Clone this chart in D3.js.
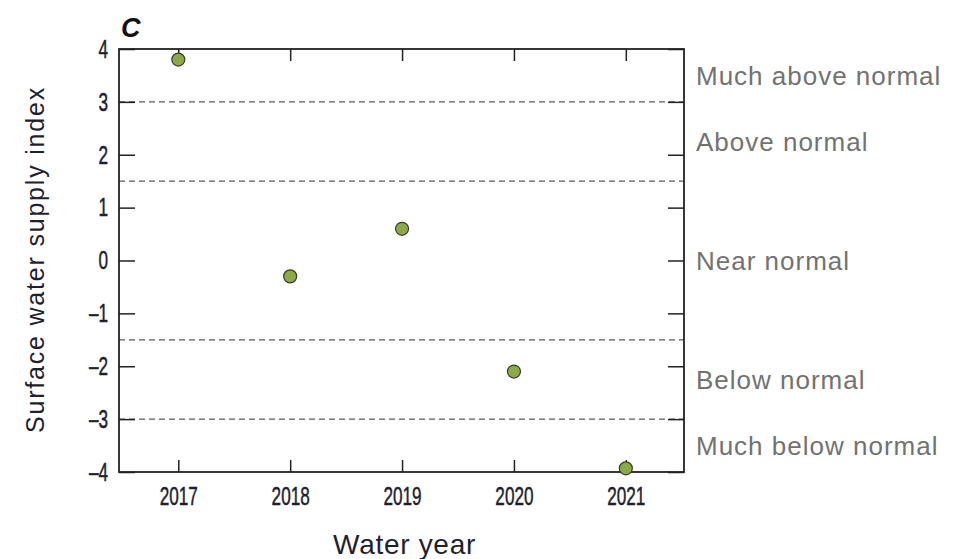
<!DOCTYPE html>
<html>
<head>
<meta charset="utf-8">
<script src="https://cdn.jsdelivr.net/npm/d3@7"></script>
<style>
  body { margin: 0; background: #fff; }
  text { font-family: "Liberation Sans", Arial, sans-serif; }
</style>
</head>
<body>
<svg id="chart" width="956" height="559"></svg>
<script>
// Surface water supply index by water year
const years = [2017, 2018, 2019, 2020, 2021];
const swsi = [3.8, -0.3, 0.6, -2.1, -3.93];
const yTicks = [-4, -3, -2, -1, 0, 1, 2, 3, 4];
const thresholds = [3, 1.5, -1.5, -3];
const classNames = ["Much above normal", "Above normal", "Near normal", "Below normal", "Much below normal"];
const classCenters = [3.5, 2.25, 0, -2.25, -3.5];

const margin = { left: 119, right: 272, top: 49, bottom: 87 };
const W = 956, H = 559;
const svg = d3.select("#chart");

const x = d3.scaleLinear().domain([2016.47, 2021.52]).range([margin.left, W - margin.right]);
const y = d3.scaleLinear().domain([-4, 4]).range([H - margin.bottom, margin.top]);

const fmt = d => d < 0 ? "\u2013" + Math.abs(d) : String(d);

// narrow the glyphs horizontally, keeping each label's anchor point
function condense(texts, sx) {
  texts.each(function () {
    const t = d3.select(this);
    const tx = +t.attr("x") || 0;
    t.attr("x", 0).attr("transform", `translate(${tx},0) scale(${sx},1)`);
  });
}

// threshold lines
svg.append("g").selectAll("line").data(thresholds).join("line")
  .attr("x1", x.range()[0]).attr("x2", x.range()[1])
  .attr("y1", d => y(d)).attr("y2", d => y(d))
  .attr("stroke", "#5a5a5a").attr("stroke-width", 1.2)
  .attr("stroke-dasharray", "6,4");

// axes with inward ticks
const axisStyle = g => {
  g.select(".domain").remove();
  g.selectAll(".tick line").attr("stroke", "#222").attr("stroke-width", 1.5);
  g.selectAll(".tick text").attr("fill", "#1f1f2e").attr("font-size", 26)
    .attr("stroke", "#1f1f2e").attr("stroke-width", 0.5);
};
svg.append("g").attr("transform", `translate(${margin.left},0)`)
  .call(d3.axisLeft(y).tickValues(yTicks).tickFormat(fmt).tickSizeInner(-16).tickPadding(11))
  .call(axisStyle)
  .call(g => condense(g.selectAll(".tick text"), 0.66));
svg.append("g").attr("transform", `translate(${W - margin.right},0)`)
  .call(d3.axisRight(y).tickValues(yTicks).tickFormat("").tickSizeInner(-16))
  .call(axisStyle);
svg.append("g").attr("transform", `translate(0,${H - margin.bottom})`)
  .call(d3.axisBottom(x).tickValues(years).tickFormat(d3.format("d")).tickSizeInner(-12).tickPadding(15))
  .call(axisStyle)
  .call(g => condense(g.selectAll(".tick text"), 0.66));
svg.append("g").attr("transform", `translate(0,${margin.top})`)
  .call(d3.axisTop(x).tickValues(years).tickFormat("").tickSizeInner(-12))
  .call(axisStyle);

// frame
svg.append("rect")
  .attr("x", margin.left).attr("y", margin.top)
  .attr("width", x.range()[1] - x.range()[0])
  .attr("height", y.range()[0] - y.range()[1])
  .attr("fill", "none").attr("stroke", "#222").attr("stroke-width", 1.8);

// points
svg.append("g").selectAll("circle").data(years).join("circle")
  .attr("cx", d => x(d))
  .attr("cy", (d, i) => y(swsi[i]))
  .attr("r", 6.5)
  .attr("fill", "#8aab48").attr("stroke", "#3a3a2a").attr("stroke-width", 1.2);

// class labels
svg.append("g").selectAll("text").data(classNames).join("text")
  .attr("x", W - margin.right + 12)
  .attr("y", (d, i) => y(classCenters[i]))
  .attr("dy", "0.35em")
  .attr("font-size", 26).attr("fill", "#727272").attr("letter-spacing", 1)
  .text(d => d);

// axis titles
svg.append("text")
  .attr("transform", `translate(44,${(y.range()[0] + y.range()[1]) / 2 - 1}) rotate(-90)`)
  .attr("text-anchor", "middle").attr("font-size", 25).attr("fill", "#1f1f2e")
  .attr("letter-spacing", 1.8)
  .text("Surface water supply index");
svg.append("text")
  .attr("x", (x.range()[0] + x.range()[1]) / 2 + 3).attr("y", 554)
  .attr("text-anchor", "middle").attr("font-size", 28).attr("fill", "#1f1f2e")
  .attr("letter-spacing", 0.7)
  .text("Water year");

// panel letter
svg.append("text")
  .attr("x", 121).attr("y", 37)
  .attr("font-size", 27).attr("font-weight", "bold").attr("font-style", "italic")
  .attr("fill", "#111")
  .text("C");
</script>
</body>
</html>
